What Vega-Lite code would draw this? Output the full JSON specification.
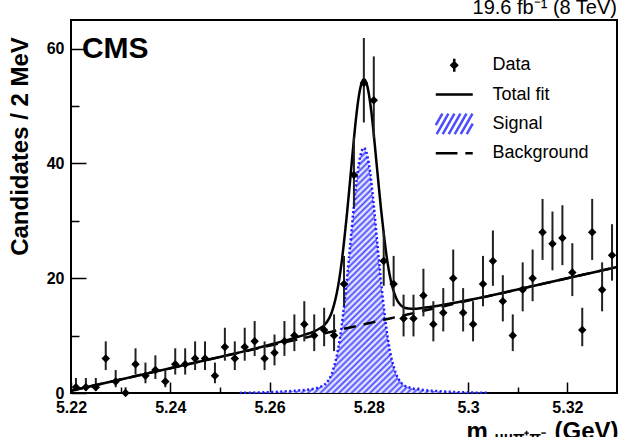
{
  "$schema": "https://vega.github.io/schema/vega-lite/v6.json",
  "width": 546,
  "height": 373,
  "autosize": {"type": "none"},
  "padding": {"left": 71, "top": 20, "right": 7, "bottom": 44},
  "background": "white",
  "config": {
    "font": "Liberation Sans",
    "view": {"stroke": "black", "strokeWidth": 2},
    "axis": {
      "domain": false,
      "grid": false,
      "labelColor": "black",
      "titleColor": "black",
      "tickColor": "black",
      "tickWidth": 1.5,
      "labelFont": "Liberation Sans",
      "labelFontWeight": "bold",
      "labelFontSize": 16,
      "titleFont": "Liberation Sans",
      "titleFontWeight": "bold",
      "titleFontSize": 24
    }
  },
  "datasets": {
    "hist": [
      {"m": 5.221, "n": 1, "lo": 0.38, "hi": 2.62},
      {"m": 5.223, "n": 1, "lo": 0.38, "hi": 2.62},
      {"m": 5.225, "n": 1, "lo": 0.38, "hi": 2.62},
      {"m": 5.227, "n": 6, "lo": 4.0, "hi": 9.0},
      {"m": 5.229, "n": 2, "lo": 1.0, "hi": 4.0},
      {"m": 5.231, "n": 0, "lo": 0.0, "hi": 1.0},
      {"m": 5.233, "n": 5, "lo": 3.21, "hi": 7.79},
      {"m": 5.235, "n": 3, "lo": 1.7, "hi": 5.3},
      {"m": 5.237, "n": 4, "lo": 2.44, "hi": 6.56},
      {"m": 5.239, "n": 2, "lo": 1.0, "hi": 4.0},
      {"m": 5.241, "n": 5, "lo": 3.21, "hi": 7.79},
      {"m": 5.243, "n": 5, "lo": 3.21, "hi": 7.79},
      {"m": 5.245, "n": 6, "lo": 4.0, "hi": 9.0},
      {"m": 5.247, "n": 6, "lo": 4.0, "hi": 9.0},
      {"m": 5.249, "n": 3, "lo": 1.7, "hi": 5.3},
      {"m": 5.251, "n": 8, "lo": 5.63, "hi": 11.37},
      {"m": 5.253, "n": 6, "lo": 4.0, "hi": 9.0},
      {"m": 5.255, "n": 8, "lo": 5.63, "hi": 11.37},
      {"m": 5.257, "n": 9, "lo": 6.46, "hi": 12.54},
      {"m": 5.259, "n": 6, "lo": 4.0, "hi": 9.0},
      {"m": 5.261, "n": 7, "lo": 4.81, "hi": 10.19},
      {"m": 5.263, "n": 9, "lo": 6.46, "hi": 12.54},
      {"m": 5.265, "n": 10, "lo": 7.3, "hi": 13.7},
      {"m": 5.267, "n": 12, "lo": 9.0, "hi": 16.0},
      {"m": 5.269, "n": 10, "lo": 7.3, "hi": 13.7},
      {"m": 5.271, "n": 11, "lo": 8.15, "hi": 14.85},
      {"m": 5.273, "n": 10, "lo": 7.3, "hi": 13.7},
      {"m": 5.275, "n": 19, "lo": 15.11, "hi": 23.89},
      {"m": 5.277, "n": 38, "lo": 32.32, "hi": 44.68},
      {"m": 5.279, "n": 54, "lo": 47.14, "hi": 61.86},
      {"m": 5.281, "n": 51, "lo": 44.34, "hi": 58.66},
      {"m": 5.283, "n": 23, "lo": 18.68, "hi": 28.32},
      {"m": 5.285, "n": 19, "lo": 15.11, "hi": 23.89},
      {"m": 5.287, "n": 13, "lo": 9.86, "hi": 17.14},
      {"m": 5.289, "n": 13, "lo": 9.86, "hi": 17.14},
      {"m": 5.291, "n": 17, "lo": 13.35, "hi": 21.65},
      {"m": 5.293, "n": 12, "lo": 9.0, "hi": 16.0},
      {"m": 5.295, "n": 14, "lo": 10.73, "hi": 18.28},
      {"m": 5.297, "n": 20, "lo": 16.0, "hi": 25.0},
      {"m": 5.299, "n": 14, "lo": 10.73, "hi": 18.28},
      {"m": 5.301, "n": 12, "lo": 9.0, "hi": 16.0},
      {"m": 5.303, "n": 19, "lo": 15.11, "hi": 23.89},
      {"m": 5.305, "n": 23, "lo": 18.68, "hi": 28.32},
      {"m": 5.307, "n": 16, "lo": 12.47, "hi": 20.53},
      {"m": 5.309, "n": 10, "lo": 7.3, "hi": 13.7},
      {"m": 5.311, "n": 18, "lo": 14.23, "hi": 22.77},
      {"m": 5.313, "n": 20, "lo": 16.0, "hi": 25.0},
      {"m": 5.315, "n": 28, "lo": 23.19, "hi": 33.82},
      {"m": 5.317, "n": 26, "lo": 21.38, "hi": 31.62},
      {"m": 5.319, "n": 27, "lo": 22.28, "hi": 32.72},
      {"m": 5.321, "n": 21, "lo": 16.89, "hi": 26.11},
      {"m": 5.323, "n": 11, "lo": 8.15, "hi": 14.85},
      {"m": 5.325, "n": 28, "lo": 23.19, "hi": 33.82},
      {"m": 5.327, "n": 18, "lo": 14.23, "hi": 22.77},
      {"m": 5.329, "n": 24, "lo": 19.58, "hi": 29.42}
    ],
    "fit": [
      {"m": 5.22, "bkg": 0.4, "tot": 0.4},
      {"m": 5.23, "bkg": 2.36, "tot": 2.36},
      {"m": 5.24, "bkg": 4.32, "tot": 4.32},
      {"m": 5.25, "bkg": 6.28, "tot": 6.28},
      {"m": 5.254, "bkg": 7.06, "tot": 7.08},
      {"m": 5.257, "bkg": 7.65, "tot": 7.72},
      {"m": 5.261, "bkg": 8.44, "tot": 8.62},
      {"m": 5.264, "bkg": 9.02, "tot": 9.34},
      {"m": 5.267, "bkg": 9.61, "tot": 10.14},
      {"m": 5.269, "bkg": 10.0, "tot": 10.75},
      {"m": 5.27, "bkg": 10.2, "tot": 11.2},
      {"m": 5.271, "bkg": 10.4, "tot": 11.8},
      {"m": 5.272, "bkg": 10.6, "tot": 13.0},
      {"m": 5.2725, "bkg": 10.69, "tot": 13.99},
      {"m": 5.273, "bkg": 10.79, "tot": 15.39},
      {"m": 5.2735, "bkg": 10.89, "tot": 17.19},
      {"m": 5.274, "bkg": 10.98, "tot": 19.58},
      {"m": 5.2745, "bkg": 11.08, "tot": 22.58},
      {"m": 5.275, "bkg": 11.18, "tot": 26.28},
      {"m": 5.2755, "bkg": 11.28, "tot": 30.38},
      {"m": 5.276, "bkg": 11.38, "tot": 34.88},
      {"m": 5.2765, "bkg": 11.47, "tot": 39.57},
      {"m": 5.277, "bkg": 11.57, "tot": 44.27},
      {"m": 5.2775, "bkg": 11.67, "tot": 48.47},
      {"m": 5.278, "bkg": 11.77, "tot": 51.77},
      {"m": 5.2785, "bkg": 11.87, "tot": 53.87},
      {"m": 5.279, "bkg": 11.96, "tot": 54.66},
      {"m": 5.2795, "bkg": 12.06, "tot": 54.06},
      {"m": 5.28, "bkg": 12.16, "tot": 52.16},
      {"m": 5.2805, "bkg": 12.26, "tot": 49.06},
      {"m": 5.281, "bkg": 12.36, "tot": 45.06},
      {"m": 5.2815, "bkg": 12.45, "tot": 40.55},
      {"m": 5.282, "bkg": 12.55, "tot": 36.05},
      {"m": 5.2825, "bkg": 12.65, "tot": 31.75},
      {"m": 5.283, "bkg": 12.75, "tot": 27.85},
      {"m": 5.2835, "bkg": 12.85, "tot": 24.35},
      {"m": 5.284, "bkg": 12.94, "tot": 21.54},
      {"m": 5.2845, "bkg": 13.04, "tot": 19.34},
      {"m": 5.285, "bkg": 13.14, "tot": 17.74},
      {"m": 5.2855, "bkg": 13.24, "tot": 16.54},
      {"m": 5.286, "bkg": 13.34, "tot": 15.74},
      {"m": 5.287, "bkg": 13.53, "tot": 14.93},
      {"m": 5.288, "bkg": 13.73, "tot": 14.73},
      {"m": 5.289, "bkg": 13.92, "tot": 14.67},
      {"m": 5.291, "bkg": 14.32, "tot": 14.85},
      {"m": 5.294, "bkg": 14.9, "tot": 15.22},
      {"m": 5.297, "bkg": 15.49, "tot": 15.67},
      {"m": 5.301, "bkg": 16.28, "tot": 16.35},
      {"m": 5.304, "bkg": 16.86, "tot": 16.88},
      {"m": 5.31, "bkg": 18.04, "tot": 18.04},
      {"m": 5.32, "bkg": 20.0, "tot": 20.0},
      {"m": 5.33, "bkg": 21.96, "tot": 21.96}
    ],
    "signal": [
      {"m": 5.254, "sig": 0.02},
      {"m": 5.257, "sig": 0.07},
      {"m": 5.261, "sig": 0.18},
      {"m": 5.264, "sig": 0.32},
      {"m": 5.267, "sig": 0.53},
      {"m": 5.269, "sig": 0.75},
      {"m": 5.27, "sig": 1.0},
      {"m": 5.271, "sig": 1.4},
      {"m": 5.272, "sig": 2.4},
      {"m": 5.2725, "sig": 3.3},
      {"m": 5.273, "sig": 4.6},
      {"m": 5.2735, "sig": 6.3},
      {"m": 5.274, "sig": 8.6},
      {"m": 5.2745, "sig": 11.5},
      {"m": 5.275, "sig": 15.1},
      {"m": 5.2755, "sig": 19.1},
      {"m": 5.276, "sig": 23.5},
      {"m": 5.2765, "sig": 28.1},
      {"m": 5.277, "sig": 32.7},
      {"m": 5.2775, "sig": 36.8},
      {"m": 5.278, "sig": 40.0},
      {"m": 5.2785, "sig": 42.0},
      {"m": 5.279, "sig": 42.7},
      {"m": 5.2795, "sig": 42.0},
      {"m": 5.28, "sig": 40.0},
      {"m": 5.2805, "sig": 36.8},
      {"m": 5.281, "sig": 32.7},
      {"m": 5.2815, "sig": 28.1},
      {"m": 5.282, "sig": 23.5},
      {"m": 5.2825, "sig": 19.1},
      {"m": 5.283, "sig": 15.1},
      {"m": 5.2835, "sig": 11.5},
      {"m": 5.284, "sig": 8.6},
      {"m": 5.2845, "sig": 6.3},
      {"m": 5.285, "sig": 4.6},
      {"m": 5.2855, "sig": 3.3},
      {"m": 5.286, "sig": 2.4},
      {"m": 5.287, "sig": 1.4},
      {"m": 5.288, "sig": 1.0},
      {"m": 5.289, "sig": 0.75},
      {"m": 5.291, "sig": 0.53},
      {"m": 5.294, "sig": 0.32},
      {"m": 5.297, "sig": 0.18},
      {"m": 5.301, "sig": 0.07},
      {"m": 5.304, "sig": 0.02}
    ],
    "legend": [
      {"series": "Data"},
      {"series": "Total fit"},
      {"series": "Signal"},
      {"series": "Background"}
    ],
    "labels": [
      {"label": "CMS"}
    ],
    "lumi": [
      {"label": "19.6 fb⁻¹ (8 TeV)"}
    ],
    "sub": [
      {"label": "μμπ⁺π⁻"}
    ]
  },
  "layer": [
    {
      "data": {"name": "signal"},
      "mark": {
        "type": "area",
        "fill": {
          "gradient": "linear",
          "x1": 0, "y1": 0, "x2": 1, "y2": 1,
          "stops": [
            {"offset": 0, "color": "#4d4dff"}, {"offset": 0.00625, "color": "#ffffff"}, {"offset": 0.0125, "color": "#4d4dff"}, {"offset": 0.01875, "color": "#ffffff"},
            {"offset": 0.025, "color": "#4d4dff"}, {"offset": 0.03125, "color": "#ffffff"}, {"offset": 0.0375, "color": "#4d4dff"}, {"offset": 0.04375, "color": "#ffffff"},
            {"offset": 0.05, "color": "#4d4dff"}, {"offset": 0.05625, "color": "#ffffff"}, {"offset": 0.0625, "color": "#4d4dff"}, {"offset": 0.06875, "color": "#ffffff"},
            {"offset": 0.075, "color": "#4d4dff"}, {"offset": 0.08125, "color": "#ffffff"}, {"offset": 0.0875, "color": "#4d4dff"}, {"offset": 0.09375, "color": "#ffffff"},
            {"offset": 0.1, "color": "#4d4dff"}, {"offset": 0.10625, "color": "#ffffff"}, {"offset": 0.1125, "color": "#4d4dff"}, {"offset": 0.11875, "color": "#ffffff"},
            {"offset": 0.125, "color": "#4d4dff"}, {"offset": 0.13125, "color": "#ffffff"}, {"offset": 0.1375, "color": "#4d4dff"}, {"offset": 0.14375, "color": "#ffffff"},
            {"offset": 0.15, "color": "#4d4dff"}, {"offset": 0.15625, "color": "#ffffff"}, {"offset": 0.1625, "color": "#4d4dff"}, {"offset": 0.16875, "color": "#ffffff"},
            {"offset": 0.175, "color": "#4d4dff"}, {"offset": 0.18125, "color": "#ffffff"}, {"offset": 0.1875, "color": "#4d4dff"}, {"offset": 0.19375, "color": "#ffffff"},
            {"offset": 0.2, "color": "#4d4dff"}, {"offset": 0.20625, "color": "#ffffff"}, {"offset": 0.2125, "color": "#4d4dff"}, {"offset": 0.21875, "color": "#ffffff"},
            {"offset": 0.225, "color": "#4d4dff"}, {"offset": 0.23125, "color": "#ffffff"}, {"offset": 0.2375, "color": "#4d4dff"}, {"offset": 0.24375, "color": "#ffffff"},
            {"offset": 0.25, "color": "#4d4dff"}, {"offset": 0.25625, "color": "#ffffff"}, {"offset": 0.2625, "color": "#4d4dff"}, {"offset": 0.26875, "color": "#ffffff"},
            {"offset": 0.275, "color": "#4d4dff"}, {"offset": 0.28125, "color": "#ffffff"}, {"offset": 0.2875, "color": "#4d4dff"}, {"offset": 0.29375, "color": "#ffffff"},
            {"offset": 0.3, "color": "#4d4dff"}, {"offset": 0.30625, "color": "#ffffff"}, {"offset": 0.3125, "color": "#4d4dff"}, {"offset": 0.31875, "color": "#ffffff"},
            {"offset": 0.325, "color": "#4d4dff"}, {"offset": 0.33125, "color": "#ffffff"}, {"offset": 0.3375, "color": "#4d4dff"}, {"offset": 0.34375, "color": "#ffffff"},
            {"offset": 0.35, "color": "#4d4dff"}, {"offset": 0.35625, "color": "#ffffff"}, {"offset": 0.3625, "color": "#4d4dff"}, {"offset": 0.36875, "color": "#ffffff"},
            {"offset": 0.375, "color": "#4d4dff"}, {"offset": 0.38125, "color": "#ffffff"}, {"offset": 0.3875, "color": "#4d4dff"}, {"offset": 0.39375, "color": "#ffffff"},
            {"offset": 0.4, "color": "#4d4dff"}, {"offset": 0.40625, "color": "#ffffff"}, {"offset": 0.4125, "color": "#4d4dff"}, {"offset": 0.41875, "color": "#ffffff"},
            {"offset": 0.425, "color": "#4d4dff"}, {"offset": 0.43125, "color": "#ffffff"}, {"offset": 0.4375, "color": "#4d4dff"}, {"offset": 0.44375, "color": "#ffffff"},
            {"offset": 0.45, "color": "#4d4dff"}, {"offset": 0.45625, "color": "#ffffff"}, {"offset": 0.4625, "color": "#4d4dff"}, {"offset": 0.46875, "color": "#ffffff"},
            {"offset": 0.475, "color": "#4d4dff"}, {"offset": 0.48125, "color": "#ffffff"}, {"offset": 0.4875, "color": "#4d4dff"}, {"offset": 0.49375, "color": "#ffffff"},
            {"offset": 0.5, "color": "#4d4dff"}, {"offset": 0.50625, "color": "#ffffff"}, {"offset": 0.5125, "color": "#4d4dff"}, {"offset": 0.51875, "color": "#ffffff"},
            {"offset": 0.525, "color": "#4d4dff"}, {"offset": 0.53125, "color": "#ffffff"}, {"offset": 0.5375, "color": "#4d4dff"}, {"offset": 0.54375, "color": "#ffffff"},
            {"offset": 0.55, "color": "#4d4dff"}, {"offset": 0.55625, "color": "#ffffff"}, {"offset": 0.5625, "color": "#4d4dff"}, {"offset": 0.56875, "color": "#ffffff"},
            {"offset": 0.575, "color": "#4d4dff"}, {"offset": 0.58125, "color": "#ffffff"}, {"offset": 0.5875, "color": "#4d4dff"}, {"offset": 0.59375, "color": "#ffffff"},
            {"offset": 0.6, "color": "#4d4dff"}, {"offset": 0.60625, "color": "#ffffff"}, {"offset": 0.6125, "color": "#4d4dff"}, {"offset": 0.61875, "color": "#ffffff"},
            {"offset": 0.625, "color": "#4d4dff"}, {"offset": 0.63125, "color": "#ffffff"}, {"offset": 0.6375, "color": "#4d4dff"}, {"offset": 0.64375, "color": "#ffffff"},
            {"offset": 0.65, "color": "#4d4dff"}, {"offset": 0.65625, "color": "#ffffff"}, {"offset": 0.6625, "color": "#4d4dff"}, {"offset": 0.66875, "color": "#ffffff"},
            {"offset": 0.675, "color": "#4d4dff"}, {"offset": 0.68125, "color": "#ffffff"}, {"offset": 0.6875, "color": "#4d4dff"}, {"offset": 0.69375, "color": "#ffffff"},
            {"offset": 0.7, "color": "#4d4dff"}, {"offset": 0.70625, "color": "#ffffff"}, {"offset": 0.7125, "color": "#4d4dff"}, {"offset": 0.71875, "color": "#ffffff"},
            {"offset": 0.725, "color": "#4d4dff"}, {"offset": 0.73125, "color": "#ffffff"}, {"offset": 0.7375, "color": "#4d4dff"}, {"offset": 0.74375, "color": "#ffffff"},
            {"offset": 0.75, "color": "#4d4dff"}, {"offset": 0.75625, "color": "#ffffff"}, {"offset": 0.7625, "color": "#4d4dff"}, {"offset": 0.76875, "color": "#ffffff"},
            {"offset": 0.775, "color": "#4d4dff"}, {"offset": 0.78125, "color": "#ffffff"}, {"offset": 0.7875, "color": "#4d4dff"}, {"offset": 0.79375, "color": "#ffffff"},
            {"offset": 0.8, "color": "#4d4dff"}, {"offset": 0.80625, "color": "#ffffff"}, {"offset": 0.8125, "color": "#4d4dff"}, {"offset": 0.81875, "color": "#ffffff"},
            {"offset": 0.825, "color": "#4d4dff"}, {"offset": 0.83125, "color": "#ffffff"}, {"offset": 0.8375, "color": "#4d4dff"}, {"offset": 0.84375, "color": "#ffffff"},
            {"offset": 0.85, "color": "#4d4dff"}, {"offset": 0.85625, "color": "#ffffff"}, {"offset": 0.8625, "color": "#4d4dff"}, {"offset": 0.86875, "color": "#ffffff"},
            {"offset": 0.875, "color": "#4d4dff"}, {"offset": 0.88125, "color": "#ffffff"}, {"offset": 0.8875, "color": "#4d4dff"}, {"offset": 0.89375, "color": "#ffffff"},
            {"offset": 0.9, "color": "#4d4dff"}, {"offset": 0.90625, "color": "#ffffff"}, {"offset": 0.9125, "color": "#4d4dff"}, {"offset": 0.91875, "color": "#ffffff"},
            {"offset": 0.925, "color": "#4d4dff"}, {"offset": 0.93125, "color": "#ffffff"}, {"offset": 0.9375, "color": "#4d4dff"}, {"offset": 0.94375, "color": "#ffffff"},
            {"offset": 0.95, "color": "#4d4dff"}, {"offset": 0.95625, "color": "#ffffff"}, {"offset": 0.9625, "color": "#4d4dff"}, {"offset": 0.96875, "color": "#ffffff"},
            {"offset": 0.975, "color": "#4d4dff"}, {"offset": 0.98125, "color": "#ffffff"}, {"offset": 0.9875, "color": "#4d4dff"}, {"offset": 0.99375, "color": "#ffffff"},
            {"offset": 1, "color": "#4d4dff"}
          ]
        }
      },
      "encoding": {
        "x": {
          "field": "m",
          "type": "quantitative",
          "scale": {"domain": [5.22, 5.33], "nice": false, "zero": false},
          "axis": {
            "title": "m\u00a0\u00a0\u00a0\u00a0\u00a0\u00a0\u00a0\u00a0\u00a0\u00a0(GeV)",
            "titleAnchor": "end",
            "titleAlign": "right",
            "titleX": 547,
            "titleY": 45,
            "titleBaseline": "alphabetic",
            "values": [5.22, 5.225, 5.23, 5.235, 5.24, 5.245, 5.25, 5.255, 5.26, 5.265, 5.27, 5.275, 5.28, 5.285, 5.29, 5.295, 5.3, 5.305, 5.31, 5.315, 5.32, 5.325],
            "labelExpr": "abs(datum.value * 50 - round(datum.value * 50)) < 0.01 ? format(datum.value, '.2~f') : ''",
            "tickSize": {"condition": {"test": "abs(datum.value * 50 - round(datum.value * 50)) < 0.01", "value": -11}, "value": -6},
            "labelPadding": 17,
            "labelFlush": false,
            "labelOverlap": false
          }
        },
        "y": {
          "field": "sig",
          "type": "quantitative",
          "scale": {"domain": [0, 65], "nice": false},
          "axis": {
            "title": "Candidates / 2 MeV",
            "titleAngle": 270,
            "titleAlign": "center",
            "titleBaseline": "alphabetic",
            "titleX": -44,
            "titleY": 126,
            "values": [0, 5, 10, 15, 20, 25, 30, 35, 40, 45, 50, 55, 60],
            "labelExpr": "datum.value % 20 === 0 ? datum.label : ''",
            "tickSize": {"condition": {"test": "datum.value % 20 === 0", "value": -15}, "value": -8},
            "labelPadding": 22,
            "labelOverlap": false
          }
        }
      }
    },
    {
      "data": {"name": "signal"},
      "mark": {"type": "line", "stroke": "#1c1cff", "strokeWidth": 2.5, "strokeDash": [2, 2.5], "interpolate": "monotone"},
      "encoding": {
        "x": {"field": "m", "type": "quantitative"},
        "y": {"field": "sig", "type": "quantitative"}
      }
    },
    {
      "data": {"name": "fit"},
      "mark": {"type": "line", "stroke": "black", "strokeWidth": 2.5, "strokeDash": [12, 8]},
      "encoding": {
        "x": {"field": "m", "type": "quantitative"},
        "y": {"field": "bkg", "type": "quantitative"}
      }
    },
    {
      "data": {"name": "fit"},
      "mark": {"type": "line", "stroke": "black", "strokeWidth": 2.5, "interpolate": "monotone"},
      "encoding": {
        "x": {"field": "m", "type": "quantitative"},
        "y": {"field": "tot", "type": "quantitative"}
      }
    },
    {
      "data": {"name": "hist"},
      "mark": {"type": "rule", "stroke": "#222222", "strokeWidth": 2},
      "encoding": {
        "x": {"field": "m", "type": "quantitative"},
        "y": {"field": "lo", "type": "quantitative"},
        "y2": {"field": "hi"}
      }
    },
    {
      "data": {"name": "hist"},
      "mark": {"type": "point", "shape": "diamond", "filled": true, "color": "black", "opacity": 1, "size": 72},
      "encoding": {
        "x": {"field": "m", "type": "quantitative"},
        "y": {"field": "n", "type": "quantitative"}
      }
    },
    {
      "data": {"name": "labels"},
      "mark": {"type": "text", "font": "Liberation Sans", "fontWeight": "bold", "fontSize": 30, "align": "left", "baseline": "alphabetic", "color": "black"},
      "encoding": {
        "x": {"datum": 5.2222, "type": "quantitative"},
        "y": {"datum": 58.4, "type": "quantitative"},
        "text": {"field": "label"}
      }
    },
    {
      "data": {"name": "lumi"},
      "mark": {"type": "text", "font": "Liberation Sans", "fontWeight": "normal", "fontSize": 20, "align": "right", "baseline": "alphabetic", "color": "black", "clip": false},
      "encoding": {
        "x": {"datum": 5.33, "type": "quantitative"},
        "y": {"datum": 66.1, "type": "quantitative"},
        "text": {"field": "label"}
      }
    },
    {
      "data": {"name": "sub"},
      "mark": {"type": "text", "font": "Liberation Sans", "fontWeight": "bold", "fontSize": 15, "align": "center", "baseline": "alphabetic", "color": "black", "clip": false},
      "encoding": {
        "x": {"datum": 5.3105, "type": "quantitative"},
        "y": {"datum": -8.6, "type": "quantitative"},
        "text": {"field": "label"}
      }
    },
    {
      "data": {"name": "legend"},
      "mark": {"type": "point", "opacity": 0},
      "encoding": {
        "shape": {
          "field": "series",
          "type": "nominal",
          "scale": {
            "domain": ["Data", "Total fit", "Signal", "Background"],
            "range": [
              "M0,-0.7V0.7M-0.3,0L0,-0.3L0.3,0L0,0.3Z",
              "M-2,0H2",
              "M-2,0.15L-1.28,-1.1M-1.9,1.1L-0.63,-1.1M-1.25,1.1L0.02,-1.1M-0.6,1.1L0.67,-1.1M0.05,1.1L1.32,-1.1M0.7,1.1L1.97,-1.1M1.35,1.1L2,-0.03",
              "M-2,0H0.35M1.2,0H2"
            ]
          },
          "legend": {
            "title": null,
            "orient": "none",
            "legendX": 372.75,
            "legendY": 34.75,
            "padding": 0,
            "gridAlign": "all",
            "symbolSize": 342,
            "symbolStrokeWidth": 2.5,
            "labelFont": "Liberation Sans",
            "labelFontSize": 18,
            "labelColor": "black",
            "labelOffset": 27.75,
            "labelLimit": 300,
            "rowPadding": -1.7
          }
        },
        "fill": {
          "field": "series",
          "type": "nominal",
          "scale": {
            "domain": ["Data", "Total fit", "Signal", "Background"],
            "range": ["black", "transparent", "transparent", "transparent"]
          },
          "legend": {"title": null}
        },
        "stroke": {
          "field": "series",
          "type": "nominal",
          "scale": {
            "domain": ["Data", "Total fit", "Signal", "Background"],
            "range": ["black", "black", "#4d4dff", "black"]
          },
          "legend": {"title": null}
        }
      }
    }
  ]
}
